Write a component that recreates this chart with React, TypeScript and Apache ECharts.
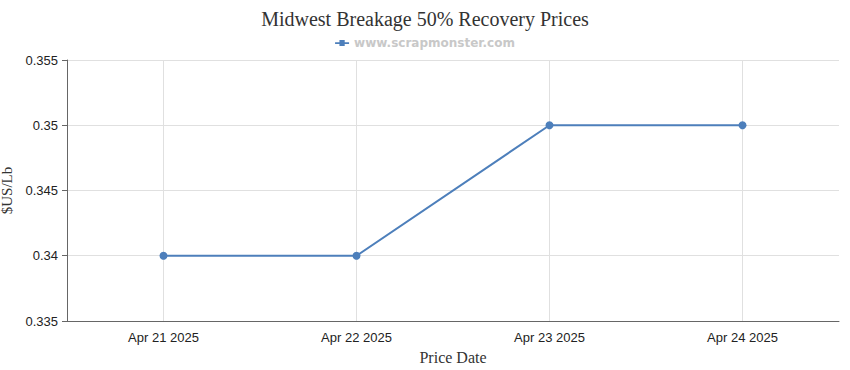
import React, { useEffect, useRef } from "react";
import * as echarts from "echarts";

const categories = ["Apr 21 2025", "Apr 22 2025", "Apr 23 2025", "Apr 24 2025"];
const prices = [0.34, 0.34, 0.35, 0.35];
const seriesName = "www.scrapmonster.com";
const titleText = "Midwest Breakage 50% Recovery Prices";

export default function App() {
  const ref = useRef<HTMLDivElement>(null);
  useEffect(() => {
    if (!ref.current) return;
    const chart = echarts.init(ref.current, undefined, { renderer: "svg" });
    chart.setOption({
      animation: false,
      title: {
        text: titleText,
        left: "center",
        top: 4,
        textStyle: { fontFamily: "Liberation Serif, serif", fontSize: 20, fontWeight: "normal", color: "#333" },
      },
      legend: {
        top: 32,
        left: "center",
        data: [
          {
            name: seriesName,
            icon: "path://M0,3 L16,3 L16,5 L0,5 Z M5,0.5 L11,0.5 L11,7.5 L5,7.5 Z",
          },
        ],
        itemWidth: 14,
        itemHeight: 7,
        itemGap: 5,
        textStyle: { color: "#c8c8c8", fontSize: 12, fontWeight: "bold", fontFamily: "DejaVu Sans, Verdana, sans-serif" },
      },
      grid: { left: 67, right: 11, top: 60, bottom: 49, containLabel: false, outerBoundsMode: "none" },
      xAxis: {
        type: "category",
        data: categories,
        boundaryGap: true,
        name: "Price Date",
        nameLocation: "middle",
        nameGap: 28,
        nameTextStyle: { fontFamily: "Liberation Serif, serif", fontSize: 16, color: "#333" },
        axisLine: { lineStyle: { color: "#666" } },
        axisTick: { alignWithLabel: true, lineStyle: { color: "#666" }, length: 5 },
        axisLabel: { color: "#222", fontSize: 13, margin: 10, fontFamily: "Liberation Sans, Arial, sans-serif" },
        splitLine: { show: false },
      },
      yAxis: {
        type: "value",
        min: 0.335,
        max: 0.355,
        interval: 0.005,
        name: "$US/Lb",
        nameLocation: "middle",
        nameGap: 53,
        nameTextStyle: { fontFamily: "Liberation Serif, serif", fontSize: 15, color: "#333" },
        axisLine: { show: true, lineStyle: { color: "#666" } },
        axisTick: { show: true, lineStyle: { color: "#666" }, length: 5 },
        axisLabel: {
          color: "#222",
          fontSize: 13,
          margin: 9,
          fontFamily: "Liberation Sans, Arial, sans-serif",
          formatter: (v: number) => String(Number(v.toFixed(3))),
        },
        splitLine: { lineStyle: { color: "#e0e0e0" } },
      },
      series: [
        {
          name: seriesName,
          type: "line",
          data: prices,
          symbol: "circle",
          symbolSize: 8,
          itemStyle: { color: "#4d7fbb" },
          lineStyle: { color: "#4d7fbb", width: 2 },
          markLine: {
            silent: true,
            symbol: "none",
            label: { show: false },
            lineStyle: { color: "#e0e0e0", type: "solid", width: 1 },
            data: categories.map((c) => ({ xAxis: c })),
            z: 0,
          },
        },
      ],
    });
    return () => chart.dispose();
  }, []);
  return <div ref={ref} style={{ width: 850, height: 370, position: "absolute", left: 0, top: 0 }} />;
}
